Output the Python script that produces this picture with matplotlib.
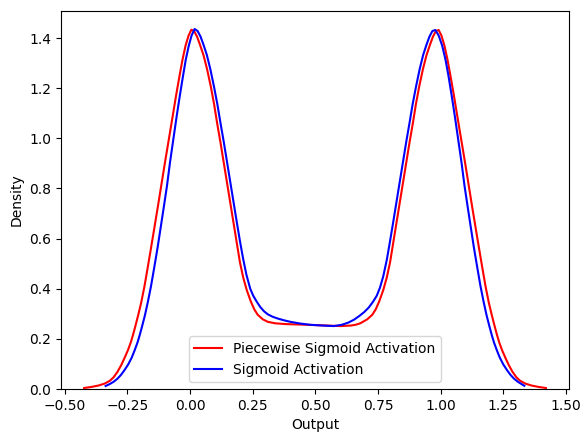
import matplotlib
matplotlib.use("Agg")
import matplotlib.pyplot as plt

# Piecewise Sigmoid Activation (red) density curve
pw_x = [-0.423, -0.395, -0.365, -0.340, -0.320, -0.305, -0.290, -0.275, -0.261, -0.248,
        -0.237, -0.228, -0.218, -0.207, -0.195, -0.182, -0.169, -0.156, -0.143, -0.129,
        -0.115, -0.100, -0.085, -0.070, -0.056, -0.042, -0.030, -0.018, -0.006, 0.005,
        0.016, 0.028, 0.040, 0.054, 0.068, 0.083, 0.096, 0.108, 0.121, 0.134,
        0.147, 0.160, 0.173, 0.186, 0.199, 0.212, 0.226, 0.242, 0.256, 0.270,
        0.290, 0.310, 0.340, 0.380, 0.440, 0.500, 0.550, 0.600, 0.640, 0.660,
        0.679, 0.707, 0.727, 0.741, 0.755, 0.771, 0.785, 0.798, 0.811, 0.824,
        0.837, 0.850, 0.863, 0.876, 0.889, 0.901, 0.914, 0.929, 0.943, 0.957,
        0.969, 0.981, 0.992, 1.003, 1.015, 1.027, 1.039, 1.053, 1.067, 1.082,
        1.097, 1.112, 1.126, 1.140, 1.153, 1.166, 1.179, 1.192, 1.204, 1.215,
        1.225, 1.234, 1.245, 1.258, 1.272, 1.287, 1.302, 1.317, 1.337, 1.362,
        1.392, 1.420]
pw_y = [0.004, 0.008, 0.014, 0.022, 0.033, 0.047, 0.068, 0.095, 0.125, 0.155,
        0.185, 0.215, 0.252, 0.295, 0.345, 0.410, 0.485, 0.562, 0.640, 0.725,
        0.812, 0.905, 0.995, 1.085, 1.170, 1.250, 1.315, 1.370, 1.410, 1.433,
        1.428, 1.405, 1.372, 1.330, 1.275, 1.205, 1.135, 1.060, 0.985, 0.905,
        0.825, 0.745, 0.665, 0.585, 0.505, 0.445, 0.395, 0.350, 0.318, 0.296,
        0.278, 0.268, 0.262, 0.259, 0.257, 0.255, 0.253, 0.251, 0.253, 0.256,
        0.262, 0.278, 0.296, 0.318, 0.350, 0.395, 0.445, 0.505, 0.585, 0.665,
        0.745, 0.825, 0.905, 0.985, 1.060, 1.135, 1.205, 1.275, 1.330, 1.372,
        1.405, 1.428, 1.432, 1.410, 1.370, 1.315, 1.250, 1.170, 1.085, 0.995,
        0.905, 0.812, 0.725, 0.640, 0.562, 0.485, 0.410, 0.345, 0.295, 0.252,
        0.215, 0.185, 0.155, 0.125, 0.095, 0.068, 0.047, 0.033, 0.022, 0.014,
        0.008, 0.004]

# Sigmoid Activation (blue) density curve
sg_x = [-0.337, -0.322, -0.305, -0.290, -0.276, -0.262, -0.247, -0.233, -0.221, -0.210,
        -0.201, -0.191, -0.180, -0.169, -0.156, -0.143, -0.130, -0.118, -0.105, -0.092,
        -0.080, -0.067, -0.054, -0.041, -0.028, -0.017, -0.005, 0.006, 0.018, 0.030,
        0.042, 0.054, 0.067, 0.081, 0.096, 0.109, 0.121, 0.134, 0.147, 0.160,
        0.173, 0.186, 0.199, 0.212, 0.225, 0.240, 0.252, 0.265, 0.280, 0.295,
        0.310, 0.330, 0.350, 0.375, 0.400, 0.440, 0.480, 0.530, 0.573, 0.605,
        0.632, 0.655, 0.675, 0.695, 0.713, 0.730, 0.745, 0.758, 0.771, 0.785,
        0.798, 0.811, 0.824, 0.837, 0.850, 0.863, 0.876, 0.888, 0.901, 0.916,
        0.930, 0.943, 0.955, 0.967, 0.979, 0.992, 1.006, 1.019, 1.031, 1.044,
        1.057, 1.070, 1.083, 1.095, 1.108, 1.121, 1.133, 1.146, 1.159, 1.172,
        1.183, 1.194, 1.204, 1.213, 1.224, 1.236, 1.250, 1.265, 1.279, 1.293,
        1.308, 1.322, 1.334]
sg_y = [0.012, 0.019, 0.029, 0.041, 0.056, 0.075, 0.098, 0.125, 0.155, 0.185,
        0.215, 0.252, 0.295, 0.345, 0.410, 0.485, 0.562, 0.640, 0.725, 0.812,
        0.905, 0.995, 1.085, 1.170, 1.250, 1.315, 1.370, 1.410, 1.436, 1.428,
        1.405, 1.372, 1.332, 1.275, 1.203, 1.135, 1.063, 0.988, 0.908, 0.828,
        0.748, 0.668, 0.590, 0.518, 0.455, 0.400, 0.372, 0.350, 0.327, 0.310,
        0.298, 0.288, 0.281, 0.274, 0.268, 0.261, 0.256, 0.253, 0.251, 0.256,
        0.265, 0.277, 0.291, 0.307, 0.325, 0.348, 0.372, 0.405, 0.450, 0.515,
        0.590, 0.668, 0.748, 0.828, 0.908, 0.988, 1.063, 1.135, 1.203, 1.275,
        1.332, 1.372, 1.405, 1.428, 1.432, 1.410, 1.370, 1.315, 1.250, 1.170,
        1.085, 0.995, 0.905, 0.812, 0.725, 0.640, 0.562, 0.485, 0.410, 0.345,
        0.295, 0.252, 0.215, 0.185, 0.155, 0.125, 0.098, 0.075, 0.056, 0.041,
        0.029, 0.020, 0.013]

fig = plt.figure(figsize=(5.81, 4.36), dpi=100)
ax = fig.add_axes([61 / 581, 47 / 436, 508 / 581, 378 / 436])

ax.plot(pw_x, pw_y, color="red", linewidth=1.5, label="Piecewise Sigmoid Activation")
ax.plot(sg_x, sg_y, color="blue", linewidth=1.5, label="Sigmoid Activation")

xmin = min(min(pw_x), min(sg_x))
xmax = max(max(pw_x), max(sg_x))
span = xmax - xmin
ax.set_xlim(xmin - 0.05 * span, xmax + 0.05 * span)
ymax = max(max(pw_y), max(sg_y))
ax.set_ylim(0, ymax * 1.05)

ax.set_xticks([-0.5, -0.25, 0.0, 0.25, 0.5, 0.75, 1.0, 1.25, 1.5])
ax.set_xticklabels(["\u22120.50", "\u22120.25", "0.00", "0.25", "0.50", "0.75", "1.00", "1.25", "1.50"])
ax.set_yticks([0.0, 0.2, 0.4, 0.6, 0.8, 1.0, 1.2, 1.4])

ax.set_xlabel("Output")
ax.set_ylabel("Density")
ax.legend(loc="lower center")

fig.savefig("out.png", dpi=100)
